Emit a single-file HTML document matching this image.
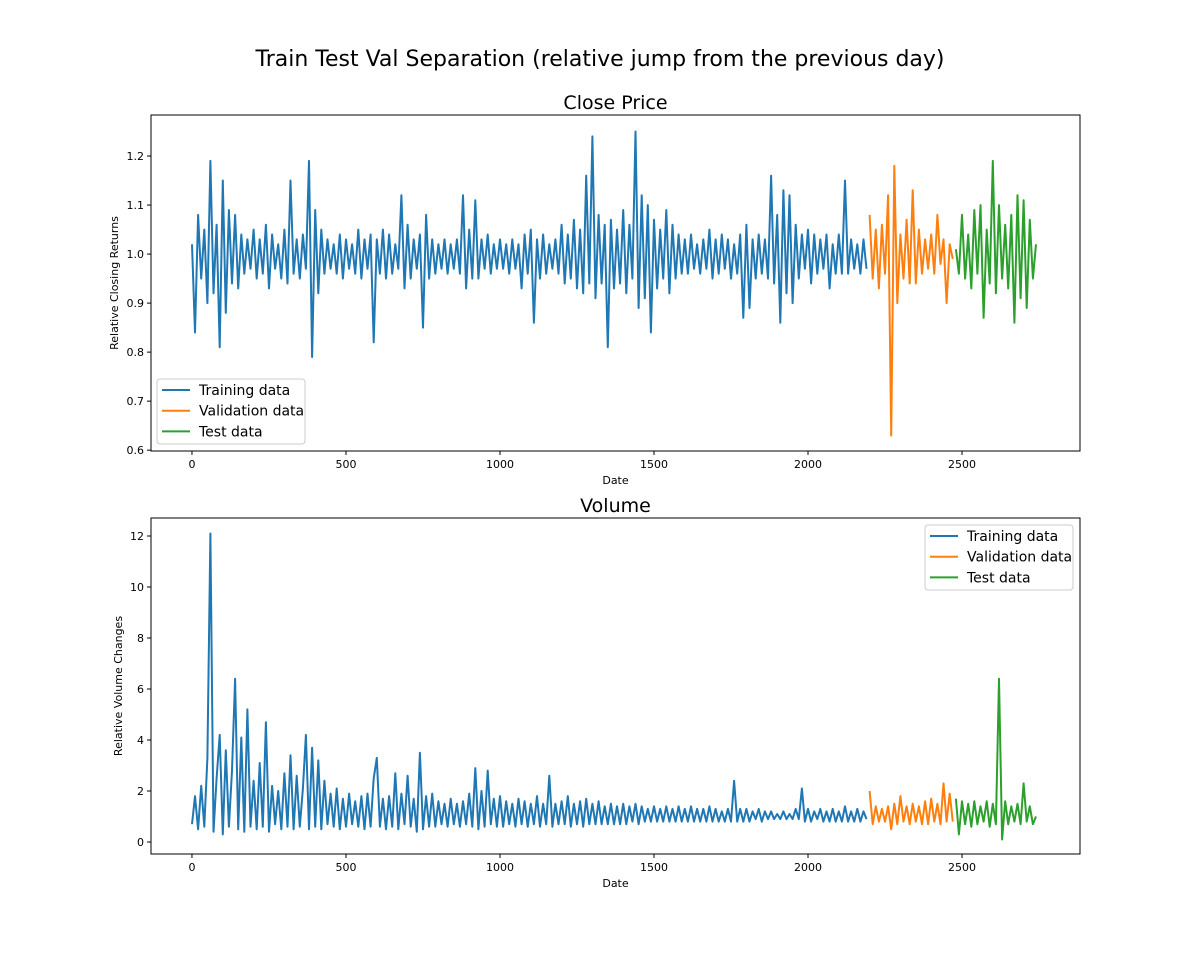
<!DOCTYPE html>
<html><head><meta charset="utf-8"><style>
body{margin:0;background:#fff;font-family:"Liberation Sans","DejaVu Sans",sans-serif}
svg text{font-family:"DejaVu Sans","Liberation Sans",sans-serif}
</style></head><body>
<svg id="chart" width="1200" height="960" viewBox="0 0 1200 960" xmlns="http://www.w3.org/2000/svg">
<rect width="1200" height="960" fill="#fff"/>
<text x="600" y="66" text-anchor="middle" font-size="22" fill="#000">Train Test Val Separation (relative jump from the previous day)</text>
</svg>
<script>
const categories = ["Training data","Validation data","Test data"];
const colors = ["#1f77b4","#ff7f0e","#2ca02c"];
const seriesStart = [0,2200,2480];
const dayStep = 10;
const xTicks = [0,500,1000,1500,2000,2500];
const closeTicks = [0.6,0.7,0.8,0.9,1.0,1.1,1.2];
const volTicks = [0,2,4,6,8,10,12];
const closeTrain = [1.02,0.84,1.08,0.95,1.05,0.90,1.19,0.92,1.06,0.81,1.15,0.88,1.09,0.94,1.08,0.93,1.04,0.96,1.03,0.97,
1.05,0.95,1.03,0.96,1.06,0.93,1.04,0.97,1.02,0.95,1.05,0.94,1.15,0.96,1.03,0.95,1.04,0.97,1.19,0.79,
1.09,0.92,1.05,0.96,1.03,0.97,1.02,0.96,1.04,0.95,1.03,0.97,1.02,0.96,1.05,0.95,1.03,0.97,1.04,0.82,
1.03,0.96,1.05,0.95,1.04,0.96,1.02,0.97,1.12,0.93,1.06,0.95,1.03,0.97,1.04,0.85,1.08,0.95,1.03,0.96,
1.02,0.97,1.03,0.96,1.02,0.97,1.03,0.96,1.12,0.93,1.05,0.95,1.11,0.95,1.03,0.97,1.04,0.96,1.02,0.97,
1.03,0.97,1.02,0.96,1.03,0.97,1.02,0.93,1.04,0.96,1.05,0.86,1.03,0.95,1.04,0.96,1.02,0.97,1.03,0.96,
1.06,0.94,1.04,0.95,1.07,0.93,1.05,0.92,1.16,0.94,1.24,0.91,1.08,0.94,1.06,0.81,1.07,0.93,1.05,0.94,
1.09,0.92,1.06,0.95,1.25,0.89,1.12,0.91,1.10,0.84,1.07,0.93,1.05,0.95,1.09,0.92,1.06,0.95,1.04,0.96,
1.03,0.96,1.04,0.97,1.02,0.96,1.03,0.97,1.05,0.95,1.03,0.96,1.04,0.97,1.03,0.95,1.02,0.96,1.04,0.87,
1.06,0.89,1.03,0.95,1.04,0.96,1.03,0.95,1.16,0.94,1.08,0.86,1.13,0.92,1.12,0.90,1.06,0.95,1.04,0.97,
1.05,0.94,1.04,0.96,1.03,0.97,1.04,0.93,1.02,0.96,1.04,0.96,1.15,0.96,1.03,0.97,1.02,0.96,1.03,0.97];
const closeVal = [1.08,0.95,1.05,0.93,1.06,0.96,1.12,0.63,1.18,0.90,1.04,0.95,1.07,0.94,1.13,0.94,1.05,0.96,1.03,0.97,1.04,0.96,1.08,0.98,1.03,0.90,1.02,0.99];
const closeTest = [1.01,0.96,1.08,0.95,1.04,0.93,1.09,0.96,1.10,0.87,1.05,0.94,1.19,0.92,1.10,0.95,1.06,0.93,1.08,0.86,1.12,0.91,1.11,0.89,1.07,0.95,1.02];
const volTrain = [0.7,1.8,0.5,2.2,0.6,3.3,12.1,0.4,2.5,4.2,0.3,3.6,0.6,2.8,6.4,0.5,4.1,0.4,5.2,0.6,
2.4,0.5,3.1,0.6,4.7,0.4,2.2,0.7,2.0,0.5,2.7,0.6,3.4,0.5,2.6,0.6,2.1,4.2,0.5,3.7,
0.6,3.2,0.5,2.4,0.7,1.9,0.6,2.1,0.5,1.7,0.6,1.9,0.7,1.6,0.6,1.8,0.5,1.9,0.6,2.5,
3.3,0.6,1.7,0.5,1.8,0.6,2.7,0.5,1.9,0.7,2.6,0.6,1.7,0.4,3.5,0.5,1.8,0.6,1.9,0.6,
1.6,0.7,1.5,0.6,1.7,0.7,1.5,0.6,1.6,0.7,1.9,0.6,2.9,0.5,2.0,0.6,2.8,0.7,1.7,0.6,
1.8,0.6,1.6,0.7,1.5,0.6,1.7,0.7,1.6,0.6,1.5,0.7,1.8,0.6,1.5,0.7,2.6,0.6,1.5,0.7,
1.6,0.7,1.8,0.6,1.5,0.7,1.6,0.6,1.7,0.7,1.5,0.7,1.6,0.7,1.4,0.7,1.5,0.7,1.4,0.7,
1.5,0.7,1.4,0.8,1.5,0.7,1.4,0.8,1.3,0.8,1.4,0.8,1.3,0.8,1.4,0.8,1.3,0.8,1.4,0.8,
1.3,0.8,1.4,0.8,1.3,0.8,1.3,0.8,1.4,0.8,1.3,0.8,1.2,0.8,1.3,0.8,2.4,0.8,1.3,0.8,
1.3,0.8,1.2,0.9,1.3,0.8,1.2,0.9,1.2,0.9,1.1,0.9,1.2,0.9,1.1,0.9,1.3,0.9,2.1,0.8,
1.3,0.8,1.2,0.9,1.3,0.8,1.2,0.8,1.3,0.8,1.2,0.8,1.4,0.8,1.2,0.8,1.3,0.8,1.2,0.9];
const volVal = [2.0,0.7,1.4,0.8,1.3,0.8,1.4,0.5,1.5,0.7,1.8,0.8,1.4,0.7,1.5,0.8,1.4,0.7,1.6,0.7,1.7,0.8,1.5,0.7,2.3,0.8,1.9,0.8];
const volTest = [1.7,0.3,1.6,0.7,1.5,0.6,1.6,0.7,1.4,0.8,1.6,0.6,1.5,0.7,6.4,0.1,1.6,0.7,1.4,0.8,1.5,0.7,2.3,0.8,1.4,0.7,1.0];

const NS="http://www.w3.org/2000/svg";
const svg=document.getElementById('chart');
function mk(tag,attrs,parent){const e=document.createElementNS(NS,tag);for(const k in attrs)e.setAttribute(k,attrs[k]);(parent||svg).appendChild(e);return e;}

function panel(cfg){
  const L=151,R=1080,T=cfg.top,B=cfg.bottom;
  const xs=d=>L+(d-(-133))/(2883-(-133))*(R-L);
  const ys=v=>B-(v-cfg.ymin)/(cfg.ymax-cfg.ymin)*(B-T);
  const g=mk('g',{});
  
  
  const t=mk('text',{x:(L+R)/2,y:T-6,'text-anchor':'middle','font-size':19,fill:'#000'},g);
  t.textContent=cfg.title;
  
  
  const clip=mk('clipPath',{id:'clip-'+cfg.name},g);
  mk('rect',{x:L,y:T,width:R-L,height:B-T},clip);
  cfg.series.forEach((arr,si)=>{
    let d='';
    arr.forEach((v,i)=>{d+=(i?'L':'M')+xs(seriesStart[si]+i*dayStep).toFixed(1)+','+ys(v).toFixed(1);});
    const p=mk('path',{d:d,fill:'none',stroke:colors[si],'stroke-width':2,'stroke-linejoin':'round','clip-path':'url(#clip-'+cfg.name+')'},g);
    
    
  });
  const frame=mk('rect',{x:L,y:T,width:R-L,height:B-T,fill:'none',stroke:'#000','stroke-width':1},g);
  
  
  xTicks.forEach(v=>{
    const x=xs(v);
    mk('line',{x1:x,x2:x,y1:B,y2:B+4,stroke:'#000'},g);
    const tx=mk('text',{x:x,y:B+17,'text-anchor':'middle','font-size':11,fill:'#000'},g);
    tx.textContent=v;
    
    
  });
  cfg.ticks.forEach(v=>{
    const y=ys(v);
    mk('line',{x1:L-4,x2:L,y1:y,y2:y,stroke:'#000'},g);
    const ty=mk('text',{x:L-7,y:y+4,'text-anchor':'end','font-size':11,fill:'#000'},g);
    ty.textContent=cfg.fmt(v);
    
    
  });
  const xl=mk('text',{x:(L+R)/2,y:B+33,'text-anchor':'middle','font-size':11,fill:'#000'},g);
  xl.textContent='Date';
  
  
  const yl=mk('text',{x:0,y:0,'text-anchor':'middle','font-size':11,fill:'#000',transform:'translate('+cfg.ylx+','+(T+B)/2+') rotate(-90)'},g);
  yl.textContent=cfg.ylabel;
  
  
  const lg=mk('g',{},g);
  
  
  mk('rect',{x:cfg.lx,y:cfg.ly,width:148,height:65,rx:3,fill:'#fff','fill-opacity':0.8,stroke:'#ccc'},lg);
  categories.forEach((c,i)=>{
    const yy=cfg.ly+11+i*20.7;
    mk('line',{x1:cfg.lx+5,x2:cfg.lx+33,y1:yy,y2:yy,stroke:colors[i],'stroke-width':2},lg);
    const lt=mk('text',{x:cfg.lx+42,y:yy+5,'font-size':14,fill:'#000'},lg);
    lt.textContent=c;
    
    
  });
}
panel({name:'close',title:'Close Price',top:115,bottom:451,ymin:0.5983,ymax:1.2837,ticks:closeTicks,fmt:v=>v.toFixed(1),
  series:[closeTrain,closeVal,closeTest],ylabel:'Relative Closing Returns',ylx:118,lx:157,ly:379});
panel({name:'volume',title:'Volume',top:518,bottom:854,ymin:-0.47,ymax:12.706,ticks:volTicks,fmt:v=>String(v),
  series:[volTrain,volVal,volTest],ylabel:'Relative Volume Changes',ylx:122,lx:925,ly:525});
</script>
</body></html>
